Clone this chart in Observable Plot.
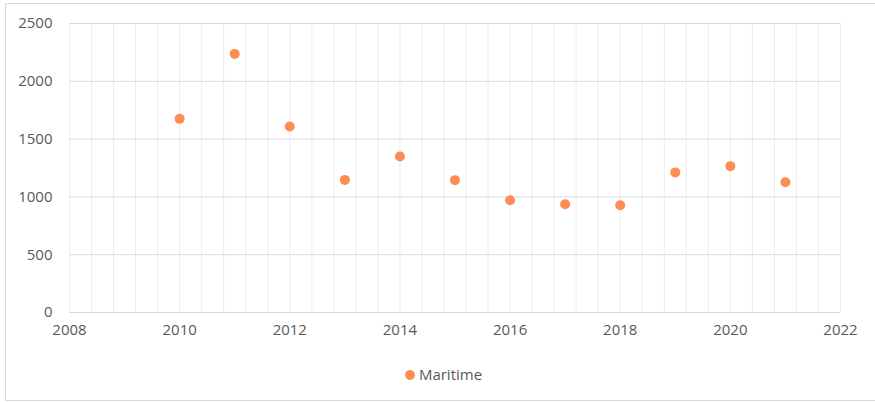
<!DOCTYPE html>
<html>
<head>
<meta charset="utf-8">
<script src="https://cdn.jsdelivr.net/npm/d3@7"></script>
<script src="https://cdn.jsdelivr.net/npm/@observablehq/plot@0.6"></script>
<style>
  html, body { margin: 0; padding: 0; background: #fff; }
  #wrap { position: relative; width: 875px; height: 402px; overflow: hidden; font-family: "Open Sans", sans-serif; }
  #frame { position: absolute; left: 5px; top: 3px; width: 890px; height: 398px; border: 1px solid #d9d9d9; box-sizing: border-box; }
  #chart { position: absolute; left: 0; top: 0; }
  #legend { position: absolute; left: 0; width: 875px; top: 364px; text-align: center; font-size: 15px; color: #595959; }
  #legend .sw { display: inline-block; width: 10px; height: 10px; border-radius: 50%; background: #fd8d53; margin-right: 4px; }
  #legend .item { display: inline-block; margin-left: 12px; }
</style>
</head>
<body>
<div id="wrap">
  <div id="frame"></div>
  <div id="chart"></div>
  <div id="legend"><span class="item"><span class="sw"></span>Maritime</span></div>
</div>
<script>
const years = [2010, 2011, 2012, 2013, 2014, 2015, 2016, 2017, 2018, 2019, 2020, 2021];
const maritime = [1675, 2237, 1609, 1147, 1350, 1145, 971, 937, 928, 1212, 1266, 1127];
const xTicks = [2008, 2010, 2012, 2014, 2016, 2018, 2020, 2022];
const yTicks = [0, 500, 1000, 1500, 2000, 2500];
const xMinorGrid = [2008, 2008.4, 2008.8, 2009.2, 2009.6, 2010, 2010.4, 2010.8, 2011.2, 2011.6, 2012, 2012.4, 2012.8, 2013.2, 2013.6, 2014, 2014.4, 2014.8, 2015.2, 2015.6, 2016, 2016.4, 2016.8, 2017.2, 2017.6, 2018, 2018.4, 2018.8, 2019.2, 2019.6, 2020, 2020.4, 2020.8, 2021.2, 2021.6, 2022];

const data = years.map((y, i) => ({year: y, value: maritime[i]}));

const chart = Plot.plot({
  width: 875,
  height: 345,
  marginLeft: 69,
  marginRight: 35,
  marginTop: 23,
  marginBottom: 33,
  style: { fontFamily: "Open Sans, sans-serif", fontSize: "15px", color: "#595959", background: "transparent" },
  x: { domain: [2008, 2022], ticks: xTicks, tickFormat: d => String(d), tickSize: 0, tickPadding: 12, label: null },
  y: { domain: [0, 2500], ticks: yTicks, tickFormat: d => String(d), tickSize: 0, tickPadding: 17, label: null },
  marks: [
    Plot.ruleX(xMinorGrid, { stroke: "#ececec", strokeWidth: 1 }),
    Plot.ruleY(yTicks, { stroke: "#d9d9d9", strokeWidth: 1 }),
    Plot.dot(data, { x: "year", y: "value", r: 5, fill: "#fd8d53", stroke: "none" })
  ]
});
document.getElementById("chart").appendChild(chart);
</script>
</body>
</html>
